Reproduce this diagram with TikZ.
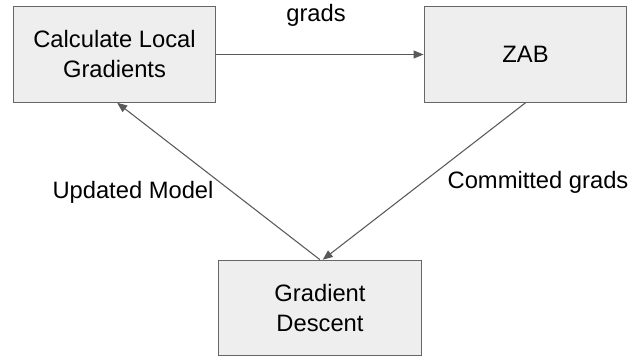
\documentclass[tikz,border=0pt]{standalone}
\usepackage{fontspec}
\setmainfont{Liberation Sans}
\usetikzlibrary{arrows.meta}
\definecolor{boxfill}{HTML}{EEEEEE}
\definecolor{boxline}{HTML}{666666}
\definecolor{arrowcol}{HTML}{595959}
\begin{document}
\begin{tikzpicture}[x=0.75pt,y=-0.75pt,
  procbox/.style={draw=boxline,fill=boxfill,line width=0.9pt,rectangle,
    minimum width=152pt,minimum height=71.5pt,inner sep=0pt,align=center,
    font=\fontsize{17.8}{22.5}\selectfont},
  lbl/.style={anchor=base,inner sep=0pt,font=\fontsize{17.8}{22.5}\selectfont},
  conn/.style={draw=arrowcol,line width=0.8pt,-{Triangle[length=7.5pt,width=6pt]}}]
\useasboundingbox (0,0) rectangle (641,360);
\node[procbox] (calc) at (114.5,54.5) {Calculate Local\\Gradients};
\node[procbox] (zab) at (525.5,54.5) {ZAB};
\node[procbox] (gd) at (320,308) {Gradient\\Descent};
\draw[conn] (calc.east) -- (zab.west);
\draw[conn] (gd.north) -- ([xshift=2pt]calc.south);
\draw[conn] (zab.south) -- ([xshift=2pt]gd.north);
\node[lbl] (lgrads) at (316,22) {grads};
\node[lbl] (lupd) at (133,198) {Updated Model};
\node[lbl] (lcom) at (538,188) {Committed grads};
\end{tikzpicture}
\end{document}
